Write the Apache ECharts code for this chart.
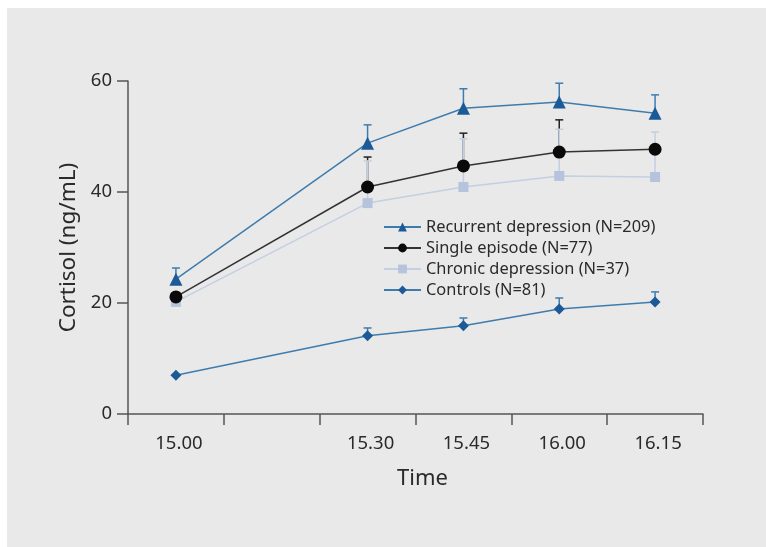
<!DOCTYPE html>
<html>
<head>
<meta charset="utf-8">
<script src="https://cdn.jsdelivr.net/npm/echarts@6/dist/echarts.min.js"></script>
<style>html,body{margin:0;padding:0;background:#fff;}#c{width:766px;height:547px;}</style>
</head>
<body>
<div id="c"></div>
<script>
var categories = ['15.00', '15.15', '15.30', '15.45', '16.00', '16.15'];
var tickLabels = ['15.00', '', '15.30', '15.45', '16.00', '16.15'];
var yTicks = [0, 20, 40, 60];

var recurrent = [24.3, null, 48.8, 55.1, 56.2, 54.2];
var recurrentUpper = [26.3, null, 52.1, 58.6, 59.6, 57.5];
var single = [21.1, null, 40.9, 44.7, 47.2, 47.7];
var singleUpper = [null, null, 46.3, 50.6, 53.0, null];
var chronic = [20.2, null, 38.0, 40.9, 42.9, 42.7];
var chronicUpper = [null, null, 45.6, 49.6, 51.3, 50.8];
var controls = [7.0, null, 14.1, 15.9, 18.9, 20.2];
var controlsUpper = [null, null, 15.5, 17.3, 20.9, 22.0];

var names = ['Recurrent depression (N=209)', 'Single episode (N=77)', 'Chronic depression (N=37)', 'Controls (N=81)'];

function errData(vals, ups) {
  var out = [];
  for (var i = 0; i < vals.length; i++) {
    if (vals[i] != null && ups[i] != null) out.push([i, vals[i], ups[i]]);
  }
  return out;
}
function errSeries(vals, ups, color, z) {
  return {
    type: 'custom',
    z: z,
    silent: true,
    data: errData(vals, ups),
    renderItem: function (params, api) {
      var lo = api.coord([api.value(0), api.value(1)]);
      var hi = api.coord([api.value(0), api.value(2)]);
      var w = 4;
      return {
        type: 'group',
        children: [
          { type: 'line', shape: { x1: lo[0], y1: lo[1], x2: hi[0], y2: hi[1] }, style: { stroke: color, lineWidth: 1.5 } },
          { type: 'line', shape: { x1: hi[0] - w, y1: hi[1], x2: hi[0] + w, y2: hi[1] }, style: { stroke: color, lineWidth: 1.5 } }
        ]
      };
    }
  };
}

var font = 'Noto Sans';
var chart = echarts.init(document.getElementById('c'));
chart.setOption({
  animation: false,
  backgroundColor: '#ffffff',
  graphic: [{ type: 'rect', z: -10, shape: { x: 7, y: 8, width: 759, height: 539 }, style: { fill: '#e9e9e9' } }],
  grid: { left: 128, right: 63, top: 81, bottom: 133 },
  legend: {
    orient: 'vertical',
    left: 378,
    top: 214,
    itemWidth: 37,
    itemHeight: 11,
    itemGap: 5,
    textStyle: { fontFamily: font, fontSize: 16.4, color: '#2a2a2a' },
    data: names
  },
  xAxis: {
    type: 'category',
    data: categories,
    boundaryGap: true,
    name: 'Time',
    nameLocation: 'middle',
    nameGap: 54,
    nameTextStyle: { fontFamily: font, fontSize: 22, color: '#2a2a2a', padding: [0, 0, 0, 14] },
    axisLine: { lineStyle: { color: '#555', width: 1.5 } },
    axisTick: { show: true, length: 11, alignWithLabel: false, lineStyle: { color: '#555', width: 1.5 } },
    axisLabel: { fontFamily: font, fontSize: 18.5, color: '#2a2a2a', margin: 20, interval: 0, padding: [0, 0, 0, 6], formatter: function (v, i) { return tickLabels[i]; } },
    splitLine: { show: false }
  },
  yAxis: {
    type: 'value',
    min: 0, max: 60, interval: 20,
    name: 'Cortisol (ng/mL)',
    nameLocation: 'middle',
    nameGap: 43,
    nameRotate: 90,
    nameTextStyle: { fontFamily: font, fontSize: 22.5, color: '#2a2a2a' },
    axisLine: { show: true, lineStyle: { color: '#555', width: 1.5 } },
    axisTick: { show: true, length: 11, lineStyle: { color: '#555', width: 1.5 } },
    axisLabel: { fontFamily: font, fontSize: 18.5, color: '#2a2a2a', margin: 16 },
    splitLine: { show: false }
  },
  series: [
    errSeries(single, singleUpper, '#222', 1),
    errSeries(chronic, chronicUpper, '#c3cfe2', 2),
    errSeries(recurrent, recurrentUpper, '#3f7cae', 2),
    errSeries(controls, controlsUpper, '#3f7cae', 2),
    { name: names[2], type: 'line', data: chronic, connectNulls: true, symbol: 'rect', symbolSize: 10, z: 3,
      lineStyle: { color: '#c3cfe2', width: 1.5 }, itemStyle: { color: '#b5c4dc' } },
    { name: names[1], type: 'line', data: single, connectNulls: true, symbol: 'circle', symbolSize: 13, z: 4,
      lineStyle: { color: '#333', width: 1.5 }, itemStyle: { color: '#0a0a0a' } },
    { name: names[0], type: 'line', data: recurrent, connectNulls: true, symbol: 'triangle', symbolSize: 13, z: 5,
      lineStyle: { color: '#3f7cae', width: 1.5 }, itemStyle: { color: '#1b5a96' } },
    { name: names[3], type: 'line', data: controls, connectNulls: true, symbol: 'diamond', symbolSize: 11, z: 5,
      lineStyle: { color: '#3f7cae', width: 1.5 }, itemStyle: { color: '#1b5a96' } }
  ]
});
</script>
</body>
</html>
